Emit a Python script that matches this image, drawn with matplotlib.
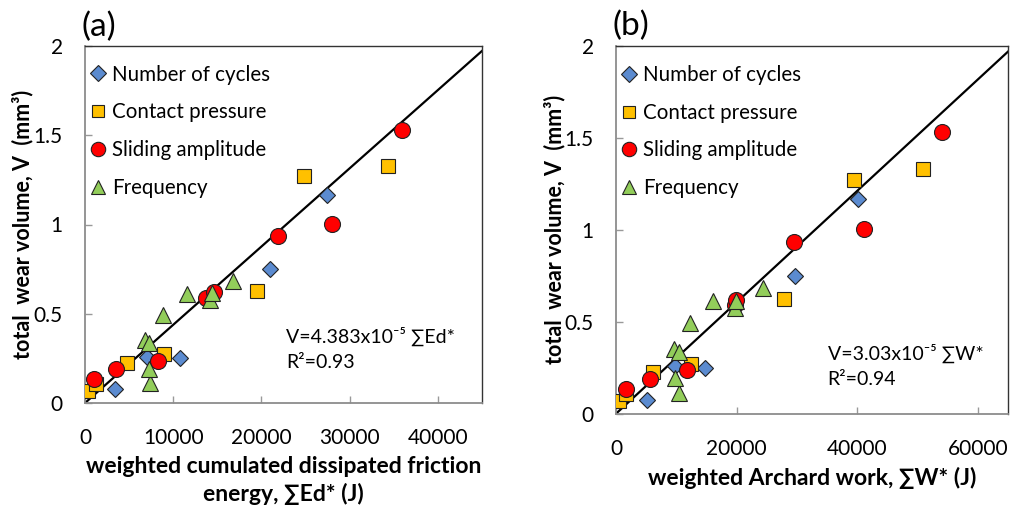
import matplotlib
matplotlib.use("Agg")
import matplotlib.pyplot as plt
from matplotlib.lines import Line2D

plt.rcParams['font.family'] = ['Lato', 'DejaVu Sans']

# ---- panel (a): wear volume vs weighted cumulated dissipated friction energy ----
cyc_ed = [3400, 6980, 10760, 20990, 27480]
cyc_va = [0.077, 0.26, 0.25, 0.75, 1.167]

prs_ed = [300, 1240, 4710, 8900, 19480, 24840, 34350]
prs_va = [0.07, 0.108, 0.225, 0.272, 0.625, 1.27, 1.33]

sld_ed = [975, 3510, 8300, 13700, 14640, 21930, 28040, 35900]
sld_va = [0.132, 0.19, 0.235, 0.59, 0.62, 0.935, 1.003, 1.532]

frq_ed = [7400, 7280, 6830, 7280, 8790, 11550, 14150, 14450, 16750]
frq_va = [0.11, 0.192, 0.352, 0.334, 0.495, 0.612, 0.575, 0.615, 0.685]

# ---- panel (b): wear volume vs weighted Archard work ----
cyc_w = [5070, 9800, 14760, 29750, 40050]
prs_w = [440, 1650, 6060, 12400, 27930, 39500, 50960]
sld_w = [1650, 5670, 11850, 19670, 19950, 29590, 41160, 54100]
frq_w = [10460, 9750, 9640, 10460, 12230, 16080, 19670, 19950, 24430]

slope_a = 4.383e-5
slope_b = 3.03e-5

series_labels = ["Number of cycles", "Contact pressure", "Sliding amplitude", "Frequency"]
x_ticks_a = [0, 10000, 20000, 30000, 40000]
x_ticks_b = [0, 20000, 40000, 60000]
y_ticks = [0, 0.5, 1, 1.5, 2]
y_tick_labels = ["0", "0.5", "1", "1.5", "2"]

styles = [
    dict(marker='D', color='#5B8BD0', ms=8.5),
    dict(marker='s', color='#FFC000', ms=10.0),
    dict(marker='o', color='#FF0000', ms=11.5),
    dict(marker='^', color='#92CD5A', ms=11.0),
]

W, H = 1014, 517
fig = plt.figure(figsize=(W / 100, H / 100), dpi=100)


def px_axes(x0, y0, x1, y1):
    return fig.add_axes([x0 / W, 1 - y1 / H, (x1 - x0) / W, (y1 - y0) / H])


def draw_panel(ax, xs_list, ys_list, slope, xmax, xticks, xlabel, eq, r2, eq_xy,
               letter, ylab_x):
    ax.set_xlim(0, xmax)
    ax.set_ylim(0, 2)
    ax.plot([0, xmax], [0, slope * xmax], color='black', lw=1.6, zorder=2)
    for xs, ys, st in zip(xs_list, ys_list, styles):
        ax.plot(xs, ys, linestyle='none', marker=st['marker'], ms=st['ms'],
                markerfacecolor=st['color'], markeredgecolor='#222222',
                markeredgewidth=0.8, zorder=3)
    ax.set_xticks(xticks)
    ax.set_xticklabels([str(t) for t in xticks])
    ax.set_yticks(y_ticks)
    ax.set_yticklabels(y_tick_labels)
    ax.tick_params(direction='in', length=5, width=1, color='#999999',
                   labelsize=15, pad=16)
    ax.tick_params(axis='x', pad=18)
    for side in ('left', 'bottom'):
        ax.spines[side].set_color('#8c8c8c')
        ax.spines[side].set_linewidth(1.3)
    for side in ('top', 'right'):
        ax.spines[side].set_color('#333333')
        ax.spines[side].set_linewidth(1.0)
    ax.set_xlabel(xlabel, fontsize=16.5, fontweight='bold', labelpad=6,
                  linespacing=1.3)
    ax.set_ylabel("total  wear volume, V  (mm³)", fontsize=15.5,
                  fontweight='bold')
    ax.yaxis.set_label_coords(ylab_x, 0.5)
    handles = [Line2D([], [], linestyle='none', marker=st['marker'],
                      ms=st['ms'] * 0.9, markerfacecolor=st['color'],
                      markeredgecolor='#222222', markeredgewidth=0.8)
               for st in styles]
    ax.legend(handles, series_labels, loc='upper left', frameon=False,
              fontsize=14.8, handlelength=0.7, handletextpad=0.3,
              labelspacing=0.86, borderaxespad=0.0, borderpad=0.3,
              bbox_to_anchor=(0.0, 0.965))
    ax.text(eq_xy[0], eq_xy[1], eq, transform=ax.transAxes, fontsize=14,
            va='center', ha='left')
    ax.text(eq_xy[0], eq_xy[1] - 0.073, r2, transform=ax.transAxes,
            fontsize=14, va='center', ha='left')
    ax.text(-0.008, 1.012, letter, transform=ax.transAxes, fontsize=24,
            va='bottom', ha='left')


ax_a = px_axes(85, 46, 482, 403)
draw_panel(ax_a, [cyc_ed, prs_ed, sld_ed, frq_ed], [cyc_va, prs_va, sld_va, frq_va],
           slope_a, 45000, x_ticks_a,
           "weighted cumulated dissipated friction\nenergy, ∑Ed* (J)",
           "V=4.383x10⁻⁵ ∑Ed*", "R²=0.93", (0.507, 0.186), "(a)", -0.131)

ax_b = px_axes(616, 46, 1008, 413.7)
draw_panel(ax_b, [cyc_w, prs_w, sld_w, frq_w], [cyc_va, prs_va, sld_va, frq_va],
           slope_b, 65000, x_ticks_b,
           "weighted Archard work, ∑W* (J)",
           "V=3.03x10⁻⁵ ∑W*", "R²=0.94", (0.54, 0.165), "(b)", -0.128)

fig.savefig("out.png", dpi=100, facecolor='white')
